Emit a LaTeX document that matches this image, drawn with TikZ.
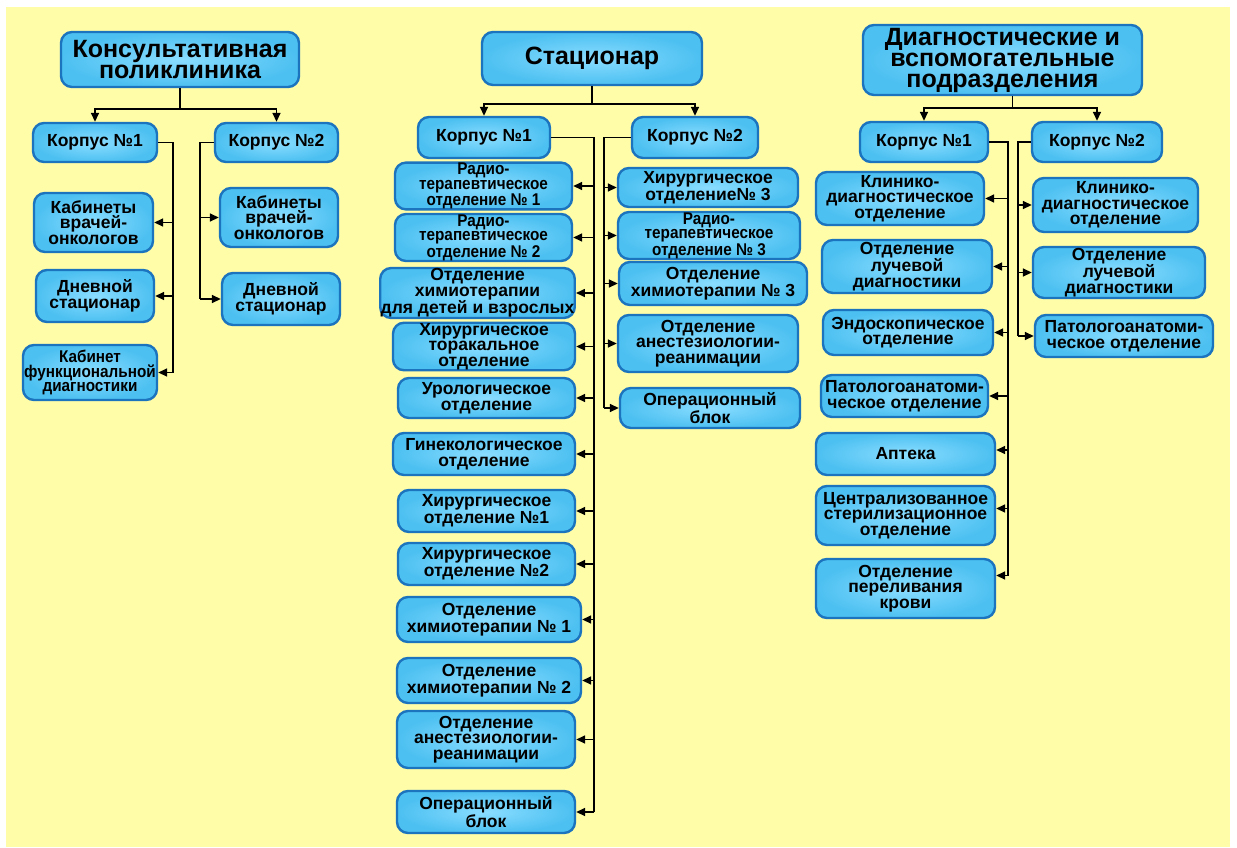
\documentclass[tikz,border=0pt]{standalone}
\usepackage{fontspec}
\setmainfont{Liberation Sans}
\newfontfamily\narrowsans{Liberation Sans}[FakeStretch=0.9]
\usetikzlibrary{arrows.meta,calc}
\definecolor{Paper}{HTML}{FFFDA8}
\definecolor{Edge}{HTML}{1C74BE}
\definecolor{Sky}{HTML}{4CC0F1}
\definecolor{PaleSky}{HTML}{8ADDFF}
\tikzset{
  unitbox/.style={draw=Edge,line width=2.4pt,rounded corners=11pt,inner color=PaleSky,
              outer color=Sky,align=center,inner sep=0.5pt,text=black},
  headbox/.style={unitbox,font=\fontsize{25}{21}\selectfont\bfseries},
  corpbox/.style={unitbox,font=\fontsize{17.5}{17}\selectfont\bfseries},
  deptbox/.style={unitbox,font=\fontsize{17.5}{15.5}\selectfont\bfseries},
  narrowdept/.style={unitbox,font=\narrowsans\fontsize{17}{14.5}\selectfont\bfseries},
  wh/.style 2 args={minimum width=#1pt,minimum height=#2pt},
  flow/.style={-{Triangle[length=9pt,width=8pt]},line width=1.6pt,draw=black},
  spine/.style={line width=1.6pt,draw=black}
}
\begin{document}
\begin{tikzpicture}[x=1pt,y=-1pt]
  \useasboundingbox (0,0) rectangle (1237,847);
  \fill[white] (0,0) rectangle (1237,847);
  \fill[Paper] (6,7) rectangle (1230,847);

  % Консультативная поликлиника
  \node[headbox,wh={238}{55}] (polyc) at (180,59.5) {Консультативная\\поликлиника};
  \node[corpbox,wh={124}{39}] (p1) at (95,142.5) {Корпус №1};
  \node[corpbox,wh={123}{39}] (p2) at (276.5,142.5) {Корпус №2};
  \node[deptbox,wh={119}{59}] (p1a) at (93.5,222.5) {Кабинеты\\врачей-\\онкологов};
  \node[deptbox,wh={118}{52}] (p1b) at (95,296) {Дневной\\стационар};
  \node[narrowdept,wh={134}{55}] (p1c) at (90,372.5) {Кабинет\\функциональной\\диагностики};
  \node[deptbox,wh={118}{59}] (p2a) at (279,217.5) {Кабинеты\\врачей-\\онкологов};
  \node[deptbox,wh={118}{52}] (p2b) at (281,299) {Дневной\\стационар};

  % Стационар
  \node[headbox,wh={220}{53}] (hosp) at (592,58.5) {Стационар};
  \node[corpbox,wh={132}{41}] (h1) at (484,137.5) {Корпус №1};
  \node[corpbox,wh={126}{41}] (h2) at (695,137.5) {Корпус №2};
  \node[narrowdept,wh={177}{38}] (h1a) at (483.5,186) {Радио-\\терапевтическое\\отделение № 1};
  \node[narrowdept,wh={177}{39}] (h1b) at (483.5,237.5) {Радио-\\терапевтическое\\отделение № 2};
  \node[deptbox,wh={191}{50}] (h1c) at (477.5,293) {Отделение\\химиотерапии\\для детей и взрослых};
  \node[deptbox,wh={182}{47}] (h1d) at (484,346.5) {Хирургическое\\торакальное\\отделение};
  \node[deptbox,wh={177}{40}] (h1e) at (486.5,398) {Урологическое\\отделение};
  \node[deptbox,wh={182}{42}] (h1f) at (484,454) {Гинекологическое\\отделение};
  \node[deptbox,wh={177}{42}] (h1g) at (486.5,511) {Хирургическое\\отделение №1};
  \node[deptbox,wh={177}{42}] (h1h) at (486.5,564) {Хирургическое\\отделение №2};
  \node[deptbox,wh={184}{45}] (h1i) at (489,619.5) {Отделение\\химиотерапии № 1};
  \node[deptbox,wh={184}{45}] (h1j) at (489,680.5) {Отделение\\химиотерапии № 2};
  \node[deptbox,wh={178}{57}] (h1k) at (486,739.5) {Отделение\\анестезиологии-\\реанимации};
  \node[deptbox,wh={178}{42}] (h1l) at (486,812) {Операционный\\блок};
  \node[deptbox,wh={180}{39}] (h2a) at (708,187.5) {Хирургическое\\отделение№ 3};
  \node[narrowdept,wh={182}{43}] (h2b) at (709,235.5) {Радио-\\терапевтическое\\отделение № 3};
  \node[deptbox,wh={188}{43}] (h2c) at (713,283.5) {Отделение\\химиотерапии № 3};
  \node[deptbox,wh={180}{57}] (h2d) at (708,343.5) {Отделение\\анестезиологии-\\реанимации};
  \node[deptbox,wh={180}{40}] (h2e) at (710,408) {Операционный\\блок};

  % Диагностические и вспомогательные подразделения
  \node[headbox,wh={279}{70}] (diag) at (1002.5,60) {Диагностические и\\вспомогательные\\подразделения};
  \node[corpbox,wh={128}{40}] (d1) at (924,142) {Корпус №1};
  \node[corpbox,wh={130}{40}] (d2) at (1097,142) {Корпус №2};
  \node[deptbox,wh={168}{53}] (d1a) at (900,198.5) {Клинико-\\диагностическое\\отделение};
  \node[deptbox,wh={170}{53}] (d1b) at (907,266.5) {Отделение\\лучевой\\диагностики};
  \node[deptbox,wh={170}{45}] (d1c) at (908,332.5) {Эндоскопическое\\отделение};
  \node[deptbox,wh={167}{42}] (d1d) at (904.5,396) {Патологоанатоми-\\ческое отделение};
  \node[deptbox,wh={179}{42}] (d1e) at (905.5,454) {Аптека};
  \node[deptbox,wh={179}{59}] (d1f) at (905.5,515.5) {Централизованное\\стерилизационное\\отделение};
  \node[deptbox,wh={179}{59}] (d1g) at (905.5,588.5) {Отделение\\переливания\\крови};
  \node[deptbox,wh={165}{54}] (d2a) at (1115.5,205) {Клинико-\\диагностическое\\отделение};
  \node[deptbox,wh={172}{51}] (d2b) at (1119,272.5) {Отделение\\лучевой\\диагностики};
  \node[deptbox,wh={178}{42}] (d2c) at (1124,336) {Патологоанатоми-\\ческое отделение};

  % шины от заголовков к корпусам
  \draw[flow] (polyc.south) -- ++(0,21) -| (p1.north);
  \draw[flow] (polyc.south) -- ++(0,21) -| (p2.north);
  \draw[flow] (hosp.south) -- ++(0,18) -| (h1.north);
  \draw[flow] (hosp.south) -- ++(0,18) -| (h2.north);
  \draw[flow] ([xshift=10pt]diag.south) -- ++(0,12) -| (d1.north);
  \draw[flow] ([xshift=10pt]diag.south) -- ++(0,12) -| (d2.north);

  % вертикальные линии корпусов
  \coordinate (ps1) at (173,0);
  \coordinate (ps2) at (200,0);
  \coordinate (hs1) at (594,0);
  \coordinate (hs2) at (604,0);
  \coordinate (ds1) at (1008,0);
  \coordinate (ds2) at (1018,0);
  \draw[spine] (p1.east) -| (ps1 |- p1c.east);
  \draw[spine] (p2.west) -| (ps2 |- p2b.west);
  \draw[spine] (h1.east) -| (hs1 |- h1l.east);
  \draw[spine] (h2.west) -| (hs2 |- h2e.west);
  \draw[spine] (d1.east) -| ([yshift=13pt]ds1 |- d1g.east);
  \draw[spine] (d2.west) -| (ds2 |- d2c.west);
  \foreach \n in {p1a,p1b,p1c}
    \draw[flow] (ps1 |- \n.east) -- (\n.east);
  \foreach \n in {p2a,p2b}
    \draw[flow] (ps2 |- \n.west) -- (\n.west);
  \foreach \n in {h1a,h1b,h1c,h1d,h1e,h1f,h1g,h1h,h1i,h1j,h1k,h1l}
    \draw[flow] (hs1 |- \n.east) -- (\n.east);
  \foreach \n in {h2a,h2b,h2c,h2d,h2e}
    \draw[flow] (hs2 |- \n.west) -- (\n.west);
  \foreach \n in {d1a,d1b,d1c,d1d}
    \draw[flow] (ds1 |- \n.east) -- (\n.east);
  \foreach \n/\s in {d1e/4,d1f/7,d1g/13}
    \draw[flow] ([yshift=\s pt]ds1 |- \n.east) -- ([yshift=\s pt]\n.east);
  \foreach \n in {d2a,d2b,d2c}
    \draw[flow] (ds2 |- \n.west) -- (\n.west);
\end{tikzpicture}
\end{document}
